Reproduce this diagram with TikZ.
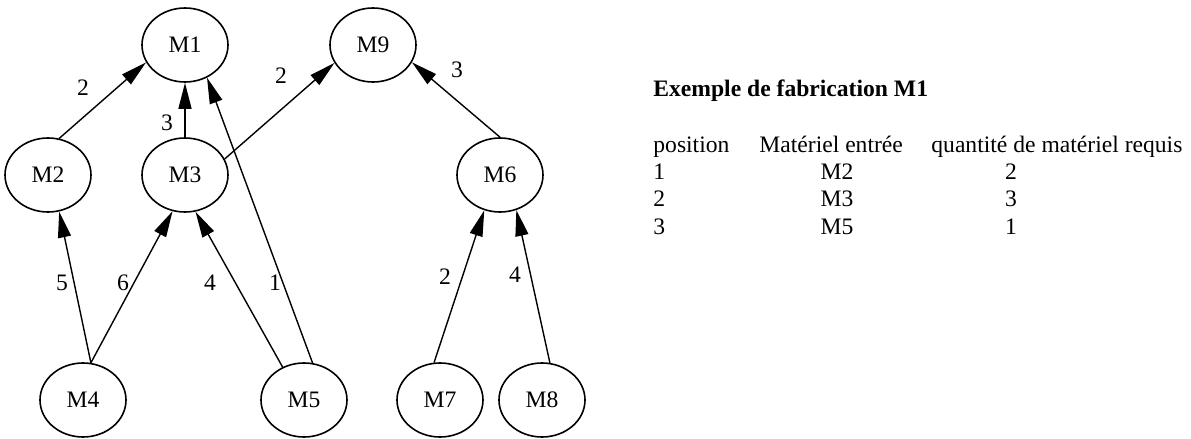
\documentclass[tikz,border=0pt]{standalone}
\usepackage{fontspec}
\setmainfont{Liberation Serif}
\usetikzlibrary{arrows.meta,shapes.geometric}
\begin{document}
\begin{tikzpicture}[x=0.5pt,y=-0.5pt,
  mat/.style={ellipse, draw, line width=0.8pt, minimum width=43pt, minimum height=37pt, inner sep=0pt, font=\fontsize{11.8pt}{14pt}\selectfont},
  arr/.style={line width=0.7pt, -{Triangle[length=13pt,width=6.5pt]}},
  lbl/.style={inner sep=0pt, font=\fontsize{11.8pt}{14pt}\selectfont},
  txt/.style={inner sep=0pt, anchor=base west, font=\fontsize{11.8pt}{14pt}\selectfont},
  txc/.style={inner sep=0pt, anchor=base, font=\fontsize{11.8pt}{14pt}\selectfont}]
\useasboundingbox (0,0) rectangle (1191,439);
\node[mat] (M1) at (185,45) {M1};
\node[mat] (M9) at (373,45) {M9};
\node[mat] (M2) at (48,175) {M2};
\node[mat] (M3) at (185,175) {M3};
\node[mat] (M6) at (500,175) {M6};
\node[mat] (M4) at (83,400) {M4};
\node[mat] (M5) at (304,400) {M5};
\node[mat] (M7) at (440,400) {M7};
\node[mat] (M8) at (542,400) {M8};
\draw[arr] (M2.73) -- (M1.204);
\draw[arr] (M3.north) -- (M1.south);
\draw[arr] (M5.77) -- (M1.304);
\draw[arr] (M3.22) -- (M9.205);
\draw[arr] (M6.north) -- (M9.336);
\draw[arr] (M4.78) -- (M2.287);
\draw[arr] (M4.78) -- (M3.251);
\draw[arr] (M5.123) -- (M3.286);
\draw[arr] (M7.99) -- (M6.246);
\draw[arr] (M8.78) -- (M6.295);
\node[lbl] (l21) at (83,88) {2};
\node[lbl] (l31) at (167,123) {3};
\node[lbl] (l51) at (275,283) {1};
\node[lbl] (l39) at (281,76) {2};
\node[lbl] (l69) at (457,70) {3};
\node[lbl] (l42) at (62,283) {5};
\node[lbl] (l43) at (123,283) {6};
\node[lbl] (l53) at (210,283) {4};
\node[lbl] (l76) at (445,277) {2};
\node[lbl] (l86) at (515,275) {4};
\node[txt, font=\fontsize{11.8pt}{14pt}\selectfont\bfseries] (title) at (653,97) {Exemple de fabrication M1};
\node[txt] (h1) at (653,152) {position};
\node[txt] (h2) at (759,152) {Matériel entrée};
\node[txt] (h3) at (931,152) {quantité de matériel requis};
\node[txt] (p1) at (653,179) {1};
\node[txt] (p2) at (653,206) {2};
\node[txt] (p3) at (653,234) {3};
\node[txc] (m1) at (837,179) {M2};
\node[txc] (m2) at (837,206) {M3};
\node[txc] (m3) at (837,234) {M5};
\node[txc] (q1) at (1011,179) {2};
\node[txc] (q2) at (1011,206) {3};
\node[txc] (q3) at (1011,234) {1};
\end{tikzpicture}
\end{document}
